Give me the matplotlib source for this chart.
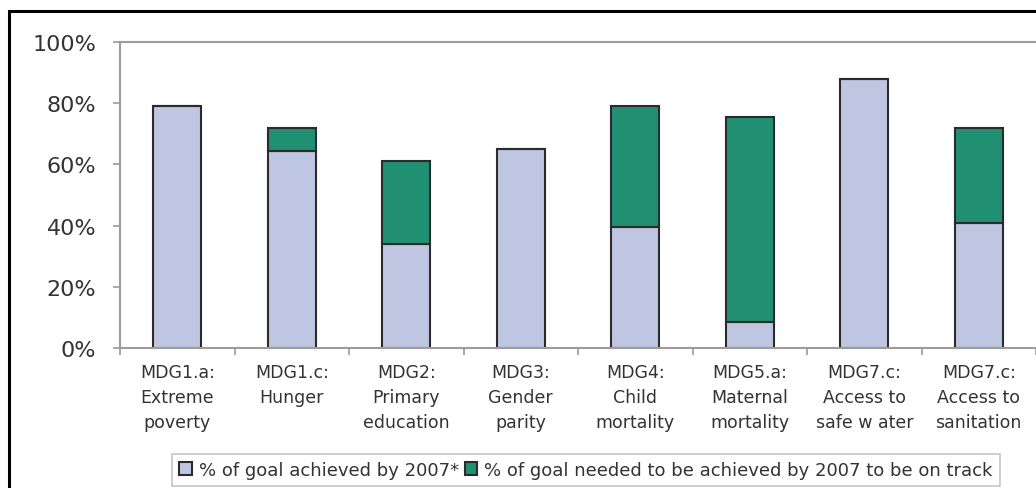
import numpy as np
import matplotlib.pyplot as plt
from matplotlib.patches import Rectangle
from matplotlib.ticker import FuncFormatter

plt.rcParams['font.family'] = ['DejaVu Sans']

categories = ["MDG1.a:\nExtreme\npoverty", "MDG1.c:\nHunger", "MDG2:\nPrimary\neducation",
              "MDG3:\nGender\nparity", "MDG4:\nChild\nmortality", "MDG5.a:\nMaternal\nmortality",
              "MDG7.c:\nAccess to\nsafe w ater", "MDG7.c:\nAccess to\nsanitation"]
achieved = [79, 64.5, 34, 65, 39.5, 8.5, 88, 41]
needed_total = [79, 72, 61, 65, 79, 75.5, 88, 72]
gap = [max(t - a, 0) for t, a in zip(needed_total, achieved)]

fig = plt.figure(figsize=(10.36, 4.89), dpi=100)
ax = fig.add_axes([120 / 1036, 1 - 349 / 489, 1 - 120 / 1036, (349 - 43) / 489])

x = np.arange(len(categories))
w = 0.42
edge = '#2b2b2b'
b1 = ax.bar(x, achieved, w, color='#BFC6E2', edgecolor=edge, linewidth=1.5,
            label='% of goal achieved by 2007*')
b2 = ax.bar(x, gap, w, bottom=achieved, color='#208F72', edgecolor=edge, linewidth=1.5,
            label='% of goal needed to be achieved by 2007 to be on track')

ax.set_xlim(-0.5, len(categories) - 0.5)
ax.set_ylim(0, 100)
ax.set_yticks([0, 20, 40, 60, 80, 100])
ax.yaxis.set_major_formatter(FuncFormatter(lambda v, p: f"{v:.0f}%"))
ax.tick_params(axis='y', labelsize=16, colors='#a09a98', labelcolor='#333333',
               length=5, width=1.2, pad=12)

ax.set_xticks(x)
ax.set_xticklabels(categories, fontsize=12.5, color='#333333', linespacing=1.5)
ax.tick_params(axis='x', length=0, pad=11)
ax.set_xticks(np.arange(len(categories) + 1) - 0.5, minor=True)
ax.tick_params(axis='x', which='minor', length=5, width=1.2, colors='#a09a98')

for s in ['left', 'bottom', 'top']:
    ax.spines[s].set_color('#a09a98')
    ax.spines[s].set_linewidth(1.5)
ax.spines['right'].set_visible(False)

leg = fig.legend(handles=[b1, b2], loc='center', bbox_to_anchor=(586 / 1036, 1 - 471 / 489),
                 ncol=2, fontsize=13, frameon=True, fancybox=False, handlelength=0.7,
                 handleheight=0.7, handletextpad=0.4, columnspacing=0.3, borderpad=0.4)
leg.get_frame().set_edgecolor('#bdb6b3')
leg.get_frame().set_linewidth(1.2)
for t in leg.get_texts():
    t.set_color('#333333')

fig.patches.append(Rectangle((9 / 1036, -0.1), 1.2, 1 - 12 / 489 + 0.1, transform=fig.transFigure,
                             fill=False, edgecolor='black', linewidth=2.2))

fig.savefig('out.png', dpi=100)
